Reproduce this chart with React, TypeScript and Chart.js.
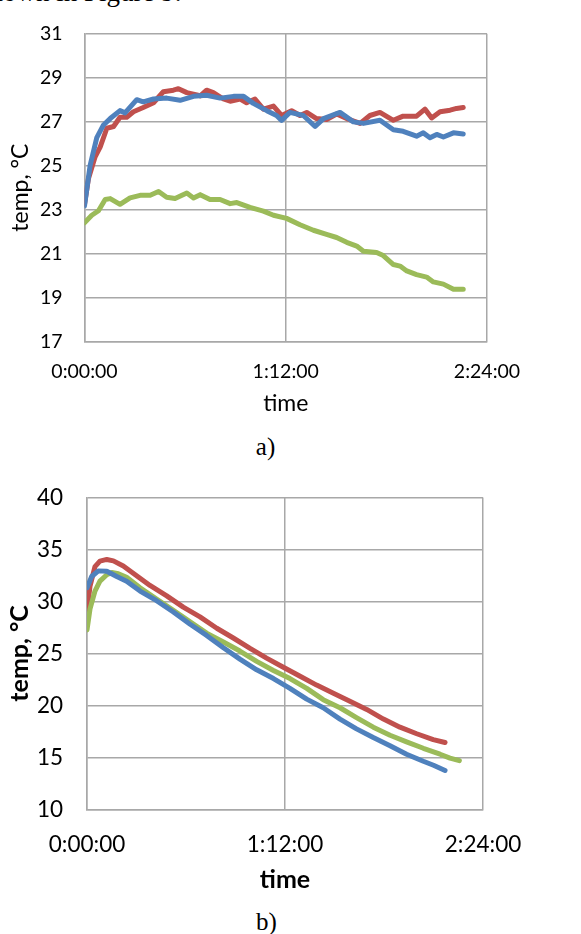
import React, { useEffect, useRef } from "react";
import { Chart, registerables } from "chart.js";

Chart.register(...registerables);

// ---------- chart a) ----------
const aBlueT = [0, 2, 4.4, 6.8, 9.2, 12.7, 14.5, 18.7, 21, 24.7, 29.4, 34.2, 39, 43.7, 48.5, 53.3, 56.9, 60.4, 65.2, 68.7, 70.5, 73.5, 78.3, 82.5, 85.5, 91.4, 96.2, 99.8, 105.7, 110.5, 114, 118.8, 121.2, 123.6, 126, 128.4, 132, 135.5];
const aBlueV = [23.17, 25.0, 26.27, 26.85, 27.14, 27.5, 27.4, 28.0, 27.9, 28.03, 28.07, 27.97, 28.15, 28.2, 28.07, 28.15, 28.15, 27.83, 27.5, 27.28, 27.06, 27.42, 27.28, 26.78, 27.14, 27.42, 26.99, 26.92, 27.06, 26.63, 26.56, 26.34, 26.49, 26.27, 26.42, 26.3, 26.49, 26.44];
const aRedT = [0, 1.4, 3.8, 5.6, 8, 10.4, 12.7, 15.1, 17.5, 21, 24.7, 28.2, 31.8, 33.6, 36.6, 40.2, 41.4, 43.7, 46.1, 49.7, 52.1, 55.7, 58, 61, 64, 67.6, 70.5, 74.1, 77.1, 79.5, 83, 86.6, 90.2, 93.8, 98.6, 102.1, 105.7, 110.5, 114, 118.8, 121.8, 124.2, 127.2, 130.8, 133.1, 135.5];
const aRedV = [23.24, 24.4, 25.4, 25.84, 26.7, 26.78, 27.2, 27.2, 27.45, 27.64, 27.86, 28.36, 28.43, 28.5, 28.32, 28.22, 28.17, 28.43, 28.32, 28.03, 27.93, 28.03, 27.86, 28.03, 27.57, 27.71, 27.28, 27.5, 27.28, 27.42, 27.14, 27.1, 27.35, 27.14, 26.92, 27.28, 27.42, 27.06, 27.25, 27.25, 27.57, 27.17, 27.45, 27.52, 27.6, 27.64];
const aGreenT = [0, 2.6, 5, 7.4, 9.2, 12.7, 16.3, 19.9, 23.5, 26.5, 29.4, 32.4, 36.6, 39, 41.4, 44.9, 48.5, 52.1, 54.5, 59.2, 64, 67.6, 72.3, 77.1, 81.9, 86.6, 90.2, 93.8, 97.4, 99.8, 104.5, 106.9, 110.5, 112.9, 115.3, 118.8, 122.4, 124.8, 128.4, 132, 135.5];
const aGreenV = [22.4, 22.74, 22.95, 23.46, 23.5, 23.24, 23.53, 23.65, 23.65, 23.82, 23.56, 23.5, 23.75, 23.53, 23.68, 23.46, 23.46, 23.27, 23.32, 23.1, 22.93, 22.74, 22.6, 22.31, 22.06, 21.87, 21.73, 21.51, 21.34, 21.11, 21.05, 20.91, 20.5, 20.43, 20.21, 20.04, 19.93, 19.71, 19.61, 19.38, 19.38];

// ---------- chart b) ----------
const bBlueT = [0, 1.7, 4.1, 7.2, 10.8, 14.4, 19.3, 25.3, 31.4, 37.5, 43.5, 49.6, 55.6, 61.7, 67.8, 73.8, 79.9, 85.9, 92, 98, 104.1, 110.2, 116.2, 122.3, 126, 130.2];
const bBlueV = [31.32, 32.4, 32.94, 32.9, 32.4, 31.95, 31.0, 30.07, 28.98, 27.8, 26.73, 25.55, 24.45, 23.42, 22.58, 21.64, 20.6, 19.77, 18.68, 17.74, 16.9, 16.12, 15.3, 14.62, 14.24, 13.74];
const bRedT = [0, 1.1, 2.9, 4.7, 7.2, 9.6, 13.2, 16.8, 22.9, 29, 35, 41.1, 47.2, 53.2, 59.3, 65.3, 71.4, 77.5, 83.5, 89.6, 95.6, 101.7, 107.8, 113.8, 119.9, 125.9, 130.2];
const bRedV = [28.98, 31.48, 33.35, 33.88, 34.04, 33.9, 33.41, 32.72, 31.54, 30.54, 29.45, 28.51, 27.42, 26.48, 25.48, 24.55, 23.67, 22.8, 21.95, 21.17, 20.39, 19.61, 18.68, 17.9, 17.27, 16.71, 16.43];
const bGreenT = [0, 1.1, 2.9, 4.7, 7.2, 9, 11.4, 14.4, 19.3, 25.3, 31.4, 37.5, 43.5, 49.6, 55.6, 61.7, 67.8, 73.8, 79.9, 85.9, 92, 98, 104.1, 110.2, 116.2, 122.3, 128.4, 132, 135.4];
const bGreenV = [27.26, 29.29, 31.0, 31.95, 32.57, 32.79, 32.66, 32.32, 31.32, 30.23, 29.14, 28.04, 26.95, 26.1, 25.23, 24.23, 23.36, 22.58, 21.64, 20.55, 19.77, 18.83, 17.9, 17.12, 16.49, 15.87, 15.3, 14.93, 14.68];

const xTicksMin = [0, 72, 144];
const yTicksA = [17, 31, 2];
const yTicksB = [10, 40, 5];
const yTitle = "temp, °C";
const xTitle = "time";

const BLUE = "#4f81bd";
const RED = "#c0504d";
const GREEN = "#9bbb59";
const GRID = "#a8a8a8";
const FONT = "Lato";

const pts = (t: number[], v: number[]) => t.map((x, i) => ({ x, y: v[i] }));
const fmtTime = (m: number) => `${Math.floor(m / 60)}:${String(Math.round(m % 60)).padStart(2, "0")}:00`;

type Cfg = {
  series: { t: number[]; v: number[]; c: string }[];
  yr: number[];
  padTop: number;
  padRight: number;
  yWidth: number;
  xHeight: number;
  tickSize: number;
  tickPadY: number;
  tickPadX: number;
  titleSize: number;
  titleBold: boolean;
  yTitlePad: number;
  xTitlePad: number;
};

function LineChart({ cfg, top, height }: { cfg: Cfg; top: number; height: number }) {
  const ref = useRef<HTMLCanvasElement>(null);
  useEffect(() => {
    if (!ref.current) return;
    const chart = new Chart(ref.current, {
      type: "scatter",
      data: {
        datasets: cfg.series.map((s) => ({
          data: pts(s.t, s.v),
          showLine: true,
          borderColor: s.c,
          backgroundColor: s.c,
          borderWidth: 5,
          pointRadius: 0,
          borderJoinStyle: "round" as const,
          borderCapStyle: "round" as const,
          tension: 0,
        })),
      },
      options: {
        animation: false,
        responsive: false,
        maintainAspectRatio: false,
        events: [],
        layout: { padding: { top: cfg.padTop, right: cfg.padRight, bottom: 0, left: 0 } },
        plugins: { legend: { display: false }, tooltip: { enabled: false } },
        scales: {
          x: {
            type: "linear",
            min: xTicksMin[0],
            max: xTicksMin[2],
            afterBuildTicks: (s: any) => {
              s.ticks = xTicksMin.map((value) => ({ value }));
            },
            afterFit: (s: any) => {
              s.height = cfg.xHeight;
            },
            grid: { color: GRID, lineWidth: 1.5, drawTicks: false },
            border: { display: true, color: GRID, width: 1.5 },
            ticks: {
              autoSkip: false,
              maxRotation: 0,
              padding: cfg.tickPadX,
              color: "#000",
              font: { family: FONT, size: cfg.tickSize },
              callback: (v: any) => fmtTime(Number(v)),
            },
            title: {
              display: true,
              text: xTitle,
              color: "#000",
              font: { family: FONT, size: cfg.titleSize, weight: cfg.titleBold ? "bold" : "normal" },
              padding: { top: 0, bottom: cfg.xTitlePad },
            },
          },
          y: {
            type: "linear",
            min: cfg.yr[0],
            max: cfg.yr[1],
            afterFit: (s: any) => {
              s.width = cfg.yWidth;
            },
            grid: { color: GRID, lineWidth: 1.5, drawTicks: false },
            border: { display: true, color: GRID, width: 1.5 },
            ticks: {
              stepSize: cfg.yr[2],
              padding: cfg.tickPadY,
              color: "#000",
              font: { family: FONT, size: cfg.tickSize },
            },
            title: {
              display: true,
              text: yTitle,
              color: "#000",
              font: { family: FONT, size: cfg.titleSize, weight: cfg.titleBold ? "bold" : "normal" },
              padding: { top: cfg.yTitlePad, bottom: 0 },
            },
          },
        },
      } as any,
    });
    return () => chart.destroy();
  }, []);
  return (
    <canvas
      ref={ref}
      width={581}
      height={height}
      style={{ position: "absolute", left: 0, top, width: 581, height }}
    />
  );
}

const cfgA: Cfg = {
  series: [
    { t: aGreenT, v: aGreenV, c: GREEN },
    { t: aBlueT, v: aBlueV, c: BLUE },
    { t: aRedT, v: aRedV, c: RED },
  ],
  yr: yTicksA,
  padTop: 17.5,
  padRight: 94,
  yWidth: 84.5,
  xHeight: 79.5,
  tickSize: 19.5,
  tickPadY: 22,
  tickPadX: 19,
  titleSize: 23,
  titleBold: false,
  yTitlePad: 7,
  xTitlePad: 4,
};

const cfgB: Cfg = {
  series: [
    { t: bBlueT, v: bBlueV, c: BLUE },
    { t: bGreenT, v: bGreenV, c: GREEN },
    { t: bRedT, v: bRedV, c: RED },
  ],
  yr: yTicksB,
  padTop: 29,
  padRight: 98,
  yWidth: 87,
  xHeight: 90.7,
  tickSize: 22.5,
  tickPadY: 24,
  tickPadX: 22,
  titleSize: 25,
  titleBold: true,
  yTitlePad: 5,
  xTitlePad: 5,
};

const serif = "'Liberation Serif', 'Times New Roman', serif";

export default function App() {
  return (
    <div
      style={{
        position: "absolute",
        left: 0,
        top: 0,
        width: 581,
        height: 934,
        overflow: "hidden",
        background: "#fff",
      }}
    >
      <div
        style={{
          position: "absolute",
          left: -21,
          top: -21,
          fontFamily: serif,
          fontSize: 27,
          lineHeight: "27px",
          whiteSpace: "nowrap",
          color: "#000",
        }}
      >
        shown in Figure 9.
      </div>
      <LineChart cfg={cfgA} top={0} height={421} />
      <div
        style={{
          position: "absolute",
          left: 0,
          width: 531,
          top: 434,
          textAlign: "center",
          fontFamily: serif,
          fontSize: 25,
          lineHeight: "26px",
          color: "#000",
        }}
      >
        a)
      </div>
      <LineChart cfg={cfgB} top={460} height={440} />
      <div
        style={{
          position: "absolute",
          left: 0,
          width: 533,
          top: 909,
          textAlign: "center",
          fontFamily: serif,
          fontSize: 25,
          lineHeight: "26px",
          color: "#000",
        }}
      >
        b)
      </div>
    </div>
  );
}
